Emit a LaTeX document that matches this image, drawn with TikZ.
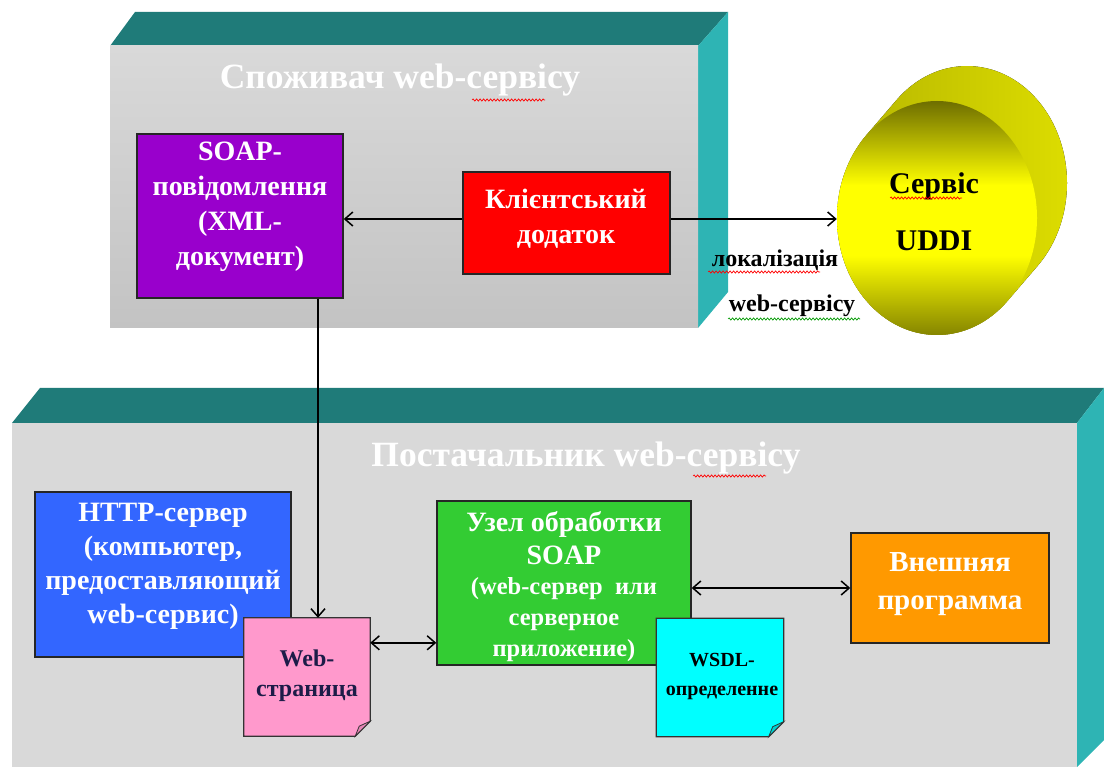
\documentclass[tikz,border=0pt]{standalone}
\usepackage{fontspec}
\setmainfont{Liberation Serif}
\usetikzlibrary{arrows.meta,shapes.geometric,decorations.pathmorphing}

\definecolor{teallid}{HTML}{1F7B79}
\definecolor{tealside}{HTML}{2EB4B4}
\definecolor{panel}{HTML}{D9D9D9}
\definecolor{panellow}{HTML}{C3C3C3}
\definecolor{soapc}{HTML}{9900CC}
\definecolor{clientc}{HTML}{FF0000}
\definecolor{httpc}{HTML}{3366FF}
\definecolor{soapnodec}{HTML}{33CC33}
\definecolor{extc}{HTML}{FF9900}
\definecolor{webc}{HTML}{FF99CC}
\definecolor{webfold}{HTML}{E585B5}
\definecolor{wsdlc}{HTML}{00FFFF}
\definecolor{wsdlfold}{HTML}{00D0D0}
\definecolor{pagetext}{HTML}{1C1C48}
\definecolor{uddilow}{HTML}{858500}
\definecolor{uddihigh}{HTML}{6E6E00}
\definecolor{uddiback1}{HTML}{B3B300}
\definecolor{uddiback2}{HTML}{DEDE00}

\pgfdeclareverticalshading{uddifront}{100bp}{color(0bp)=(uddilow); color(25bp)=(uddilow); color(42bp)=(yellow); color(57bp)=(yellow); color(75bp)=(uddihigh); color(100bp)=(uddihigh)}

\begin{document}
\begin{tikzpicture}[x=1pt,y=-1pt,
  frame/.style={draw=black!85, line width=1.4pt, inner sep=0pt},
  boxtext/.style={align=center, text=white, font=\bfseries\fontsize{28}{35}\selectfont, inner sep=0pt},
  paneltitle/.style={text=white, font=\bfseries\fontsize{35.5}{40}\selectfont, inner sep=0pt},
  link/.style={line width=1.5pt, -{Straight Barb[length=8pt,width=14pt]}},
  biglink/.style={line width=1.5pt, {Straight Barb[length=8pt,width=14pt]}-{Straight Barb[length=8pt,width=14pt]}},
  page/.style={minimum width=126pt, minimum height=118pt, inner sep=0pt},
  pageedge/.style={draw=black!80, line width=1.2pt},
  squig/.style={line width=0.7pt, decorate, decoration={snake, amplitude=1.1pt, segment length=3.5pt}},
]
\useasboundingbox (0,0) rectangle (1104,767);

% provider panel (3D slab)
\fill[teallid] (12,423) -- (40,388) -- (1104,388) -- (1077,423) -- cycle;
\fill[tealside] (1077,423) -- (1104,388) -- (1104,740) -- (1077,767) -- cycle;
\fill[panel] (12,423) rectangle (1077,767);

% consumer panel (3D slab)
\fill[teallid] (110,46) -- (135,12) -- (728,12) -- (698,46) -- cycle;
\fill[tealside] (698,46) -- (728,12) -- (728,292) -- (698,328) -- cycle;
\shade[top color=panel, bottom color=panellow] (110,46) rectangle (698,328);

\node[paneltitle] (consumer) at (400,80) {Споживач web-сервісу};
\node[paneltitle] (provider) at (586,458) {Постачальник web-сервісу};

% UDDI registry drum
\fill[left color=uddiback1, right color=uddiback2]
  (1007.7,300.7) arc[start angle=45, end angle=225, x radius=100, y radius=117]
  -- (896.3,100.3) arc[start angle=225, end angle=405, x radius=100, y radius=117] -- cycle;
\node[ellipse, shade, shading=uddifront, minimum width=200pt, minimum height=234pt, inner sep=0pt] (uddi) at (937,218) {};
\node[align=center, font=\bfseries\fontsize{30}{57}\selectfont, inner sep=0pt] (uddi-t) at (934,212) {Сервіс\\UDDI};

% consumer side
\node[frame, fill=soapc, minimum width=206pt, minimum height=164pt] (soapmsg) at (240,216) {};
\node[boxtext] (soapmsg-t) at (240,207) {SOAP-\\повідомлення\\(XML-\\документ)};
\node[frame, fill=clientc, minimum width=207pt, minimum height=102pt] (client) at (566.5,223) {};
\node[boxtext] (client-t) at (566,219) {Клієнтський\\додаток};

% provider side
\node[frame, fill=httpc, minimum width=256pt, minimum height=165pt] (http) at (163,574.5) {};
\node[boxtext, font=\bfseries\fontsize{28}{34}\selectfont] (http-t) at (163,566) {HTTP-сервер\\(компьютер,\\предоставляющий\\web-сервис)};
\node[frame, fill=soapnodec, minimum width=254pt, minimum height=164pt] (soapnode) at (564,583) {};
\node[boxtext, font=\bfseries\fontsize{28}{33}\selectfont] (soapnode-t) at (564,538) {Узел обработки\\SOAP};
\node[boxtext, font=\bfseries\fontsize{24.5}{31}\selectfont] (soapnode-s) at (564,620) {(web-сервер\ \ или\\серверное\\приложение)};
\node[frame, fill=extc, minimum width=198pt, minimum height=110pt] (ext) at (950,588) {};
\node[boxtext, font=\bfseries\fontsize{29}{38}\selectfont] (ext-t) at (950,584) {Внешняя\\программа};

% documents with folded corners
\node[page] (webpage) at (307,677) {};
\filldraw[fill=webc, pageedge] (webpage.north west) -- (webpage.north east) -- ([yshift=15pt]webpage.south east)
  -- ([xshift=-15pt]webpage.south east) -- (webpage.south west) -- cycle;
\filldraw[fill=webfold, pageedge, line width=0.8pt] ([xshift=-15pt]webpage.south east) -- ([yshift=15pt]webpage.south east)
  -- ([xshift=-11pt,yshift=10pt]webpage.south east) -- cycle;
\node[align=center, text=pagetext, font=\bfseries\fontsize{24}{30}\selectfont, inner sep=0pt] (webpage-t) at (307,676) {Web-\\страница};

\node[page, minimum width=127pt] (wsdl) at (720,677.5) {};
\filldraw[fill=wsdlc, pageedge] (wsdl.north west) -- (wsdl.north east) -- ([yshift=15pt]wsdl.south east)
  -- ([xshift=-15pt]wsdl.south east) -- (wsdl.south west) -- cycle;
\filldraw[fill=wsdlfold, pageedge, line width=0.8pt] ([xshift=-15pt]wsdl.south east) -- ([yshift=15pt]wsdl.south east)
  -- ([xshift=-11pt,yshift=10pt]wsdl.south east) -- cycle;
\node[align=center, font=\bfseries\fontsize{20}{29}\selectfont, inner sep=0pt] (wsdl-t) at (722,677) {WSDL-\\определенне};

% connectors
\coordinate (client-l) at ([yshift=4pt]client.west);
\coordinate (client-r) at ([yshift=4pt]client.east);
\draw[link] (client-l) -- (client-l -| soapmsg.east);
\draw[link] (client-r) -- (client-r -| uddi.west);
\node[font=\bfseries\fontsize{24}{28}\selectfont, inner sep=0pt] (loc1) at (775,260) {локалізація};
\node[font=\bfseries\fontsize{24}{28}\selectfont, inner sep=0pt] (loc2) at (792,306) {web-сервісу};

\coordinate (drop) at ([xshift=78pt]soapmsg.south);
\draw[link] (drop) -- (drop |- webpage.north);
\coordinate (wp-port) at ([yshift=-25pt]webpage.north east);
\draw[biglink] (wp-port) -- (wp-port -| soapnode.west);
\draw[biglink] (soapnode.east |- ext.west) -- (ext.west);

% spell-check marks
\draw[squig, red] (472,100) -- (545,100);
\draw[squig, red] (693,476) -- (766,476);
\draw[squig, red] (890,198) -- (962,198);
\draw[squig, red] (708,272) -- (820,272);
\draw[squig, green!60!black] (728,319) -- (860,319);
\end{tikzpicture}
\end{document}
